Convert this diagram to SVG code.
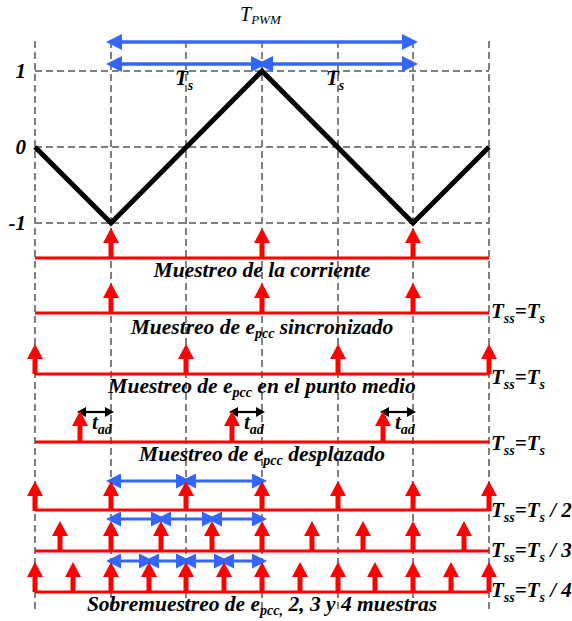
<svg xmlns="http://www.w3.org/2000/svg" xmlns:xlink="http://www.w3.org/1999/xlink" width="572" height="621" viewBox="0 0 572 621">
<style>
.grid{stroke:#808080;stroke-width:2;stroke-dasharray:7 4;fill:none}
.wave{stroke:#000;stroke-width:5;fill:none;stroke-linejoin:miter}
.rl{stroke:#ff0000;stroke-width:3.2;fill:none}
.ba{stroke:#3366ff;stroke-width:3.5;fill:none;marker-start:url(#bh);marker-end:url(#bh)}
.bs{stroke:#3366ff;stroke-width:3;fill:none;marker-start:url(#bs);marker-end:url(#bs)}
.ka{stroke:#000;stroke-width:2.2;fill:none;marker-start:url(#kh);marker-end:url(#kh)}
text{font-family:"Liberation Serif","Times New Roman",serif;font-weight:bold;font-style:italic;fill:#000}
.lbl{font-size:21.5px;text-anchor:middle}
.ax{font-size:21px;text-anchor:end}
.ts{font-size:21px}
.sub{font-size:14px}
</style>
<defs>
<marker id="bh" viewBox="0 0 16 16" refX="11" refY="8" markerWidth="16" markerHeight="16" markerUnits="userSpaceOnUse" orient="auto-start-reverse"><path d="M0,0 L16,8 L0,16 z" fill="#3366ff"/></marker>
<marker id="bs" viewBox="0 0 15 15" refX="10" refY="7.5" markerWidth="15" markerHeight="15" markerUnits="userSpaceOnUse" orient="auto-start-reverse"><path d="M0,0 L15,7.5 L0,15 z" fill="#3366ff"/></marker>
<marker id="kh" viewBox="0 0 9 10" refX="6" refY="5" markerWidth="9" markerHeight="10" markerUnits="userSpaceOnUse" orient="auto-start-reverse"><path d="M0,0 L9,5 L0,10 z" fill="#000"/></marker>
<g id="ra"><polygon points="0,0 -8,15 8,15" fill="#ff0000"/><rect x="-2.5" y="14" width="5" height="16" fill="#ff0000"/></g>
</defs>

<g id="grid">
<line class="grid" x1="35" y1="41" x2="35" y2="610"/>
<line class="grid" x1="111" y1="41" x2="111" y2="610"/>
<line class="grid" x1="186" y1="41" x2="186" y2="610"/>
<line class="grid" x1="262" y1="41" x2="262" y2="610"/>
<line class="grid" x1="338" y1="41" x2="338" y2="610"/>
<line class="grid" x1="413" y1="41" x2="413" y2="610"/>
<line class="grid" x1="489" y1="41" x2="489" y2="610"/>
<line class="grid" x1="35" y1="71" x2="489" y2="71"/>
<line class="grid" x1="35" y1="147" x2="489" y2="147"/>
<line class="grid" x1="35" y1="223" x2="489" y2="223"/>
</g>

<g id="axis-labels">
<text class="ax" x="26" y="78">1</text>
<text class="ax" x="26" y="154">0</text>
<text class="ax" x="26" y="230">-1</text>
</g>

<g id="carrier">
<polyline class="wave" points="35,147 111,223 262,71 413,223 489,147"/>
</g>

<g id="period-labels">
<text x="240" y="21" style="font-weight:normal;font-size:20px">T<tspan style="font-size:13px" dy="3">PWM</tspan></text>
<text class="ts" x="175" y="85">T<tspan class="sub" dy="5">s</tspan></text>
<text class="ts" x="326" y="85">T<tspan class="sub" dy="5">s</tspan></text>
</g>

<g id="connectors">
<line class="ba" x1="111" y1="42" x2="413" y2="42"/>
<line class="ba" x1="111" y1="64" x2="262" y2="64"/>
<line class="ba" x1="262" y1="64" x2="413" y2="64"/>
<line class="ka" x1="80" y1="412" x2="111" y2="412"/>
<line class="ka" x1="232" y1="412" x2="262" y2="412"/>
<line class="ka" x1="383" y1="412" x2="413" y2="412"/>
<line class="bs" x1="111" y1="481" x2="186" y2="481"/>
<line class="bs" x1="186" y1="481" x2="262" y2="481"/>
<line class="bs" x1="111" y1="519" x2="161" y2="519"/>
<line class="bs" x1="161" y1="519" x2="212" y2="519"/>
<line class="bs" x1="212" y1="519" x2="262" y2="519"/>
<line class="bs" x1="111" y1="561" x2="149" y2="561"/>
<line class="bs" x1="149" y1="561" x2="186" y2="561"/>
<line class="bs" x1="186" y1="561" x2="224" y2="561"/>
<line class="bs" x1="224" y1="561" x2="262" y2="561"/>
</g>

<g id="row1">
<line class="rl" x1="35" y1="258" x2="489" y2="258"/>
<use xlink:href="#ra" x="111" y="228"/><use xlink:href="#ra" x="262" y="228"/><use xlink:href="#ra" x="413" y="228"/>
<text class="lbl" x="262" y="277">Muestreo de la corriente</text>
</g>

<g id="row2">
<line class="rl" x1="35" y1="313" x2="489" y2="313"/>
<use xlink:href="#ra" x="111" y="283"/><use xlink:href="#ra" x="262" y="283"/><use xlink:href="#ra" x="413" y="283"/>
<text class="lbl" x="262" y="334">Muestreo de e<tspan class="sub" dy="4">pcc</tspan><tspan dy="-4"> sincronizado</tspan></text>
<text class="ts" x="491" y="318">T<tspan class="sub" dy="5">ss</tspan><tspan dy="-5">=T</tspan><tspan class="sub" dy="5">s</tspan></text>
</g>

<g id="row3">
<line class="rl" x1="35" y1="374" x2="489" y2="374"/>
<use xlink:href="#ra" x="35" y="344"/><use xlink:href="#ra" x="186" y="344"/><use xlink:href="#ra" x="338" y="344"/><use xlink:href="#ra" x="489" y="344"/>
<text class="lbl" x="262" y="393">Muestreo de e<tspan class="sub" dy="4">pcc</tspan><tspan dy="-4"> en el punto medio</tspan></text>
<text class="ts" x="491" y="384">T<tspan class="sub" dy="5">ss</tspan><tspan dy="-5">=T</tspan><tspan class="sub" dy="5">s</tspan></text>
</g>

<g id="row4">
<line class="rl" x1="35" y1="442" x2="489" y2="442"/>
<use xlink:href="#ra" x="80" y="411"/><use xlink:href="#ra" x="232" y="411"/><use xlink:href="#ra" x="383" y="411"/>
<text class="ts" x="92" y="429">t<tspan class="sub" dy="5">ad</tspan></text>
<text class="ts" x="244" y="429">t<tspan class="sub" dy="5">ad</tspan></text>
<text class="ts" x="395" y="429">t<tspan class="sub" dy="5">ad</tspan></text>
<text class="lbl" x="262" y="461">Muestreo de e<tspan class="sub" dy="4">pcc</tspan><tspan dy="-4"> desplazado</tspan></text>
<text class="ts" x="491" y="450">T<tspan class="sub" dy="5">ss</tspan><tspan dy="-5">=T</tspan><tspan class="sub" dy="5">s</tspan></text>
</g>

<g id="row5">
<line class="rl" x1="35" y1="510" x2="489" y2="510"/>
<use xlink:href="#ra" x="35" y="481"/><use xlink:href="#ra" x="111" y="481"/><use xlink:href="#ra" x="186" y="481"/><use xlink:href="#ra" x="262" y="481"/><use xlink:href="#ra" x="338" y="481"/><use xlink:href="#ra" x="413" y="481"/><use xlink:href="#ra" x="489" y="481"/>
<text class="ts" x="491" y="517">T<tspan class="sub" dy="5">ss</tspan><tspan dy="-5">=T</tspan><tspan class="sub" dy="5">s</tspan><tspan dy="-5"> / 2</tspan></text>
</g>

<g id="row6">
<line class="rl" x1="35" y1="551" x2="489" y2="551"/>
<use xlink:href="#ra" x="60" y="521"/><use xlink:href="#ra" x="111" y="521"/><use xlink:href="#ra" x="161" y="521"/><use xlink:href="#ra" x="212" y="521"/><use xlink:href="#ra" x="262" y="521"/><use xlink:href="#ra" x="312" y="521"/><use xlink:href="#ra" x="363" y="521"/><use xlink:href="#ra" x="413" y="521"/><use xlink:href="#ra" x="464" y="521"/>
<text class="ts" x="491" y="557">T<tspan class="sub" dy="5">ss</tspan><tspan dy="-5">=T</tspan><tspan class="sub" dy="5">s</tspan><tspan dy="-5"> / 3</tspan></text>
</g>

<g id="row7">
<line class="rl" x1="35" y1="592" x2="489" y2="592"/>
<use xlink:href="#ra" x="35" y="562"/><use xlink:href="#ra" x="73" y="562"/><use xlink:href="#ra" x="111" y="562"/><use xlink:href="#ra" x="149" y="562"/><use xlink:href="#ra" x="186" y="562"/><use xlink:href="#ra" x="224" y="562"/><use xlink:href="#ra" x="262" y="562"/><use xlink:href="#ra" x="300" y="562"/><use xlink:href="#ra" x="338" y="562"/><use xlink:href="#ra" x="375" y="562"/><use xlink:href="#ra" x="413" y="562"/><use xlink:href="#ra" x="451" y="562"/><use xlink:href="#ra" x="489" y="562"/>
<text class="ts" x="491" y="597">T<tspan class="sub" dy="5">ss</tspan><tspan dy="-5">=T</tspan><tspan class="sub" dy="5">s</tspan><tspan dy="-5"> / 4</tspan></text>
<text class="lbl" x="262" y="611">Sobremuestreo de e<tspan class="sub" dy="4">pcc,</tspan><tspan dy="-4"> 2, 3 y 4 muestras</tspan></text>
</g>
</svg>
